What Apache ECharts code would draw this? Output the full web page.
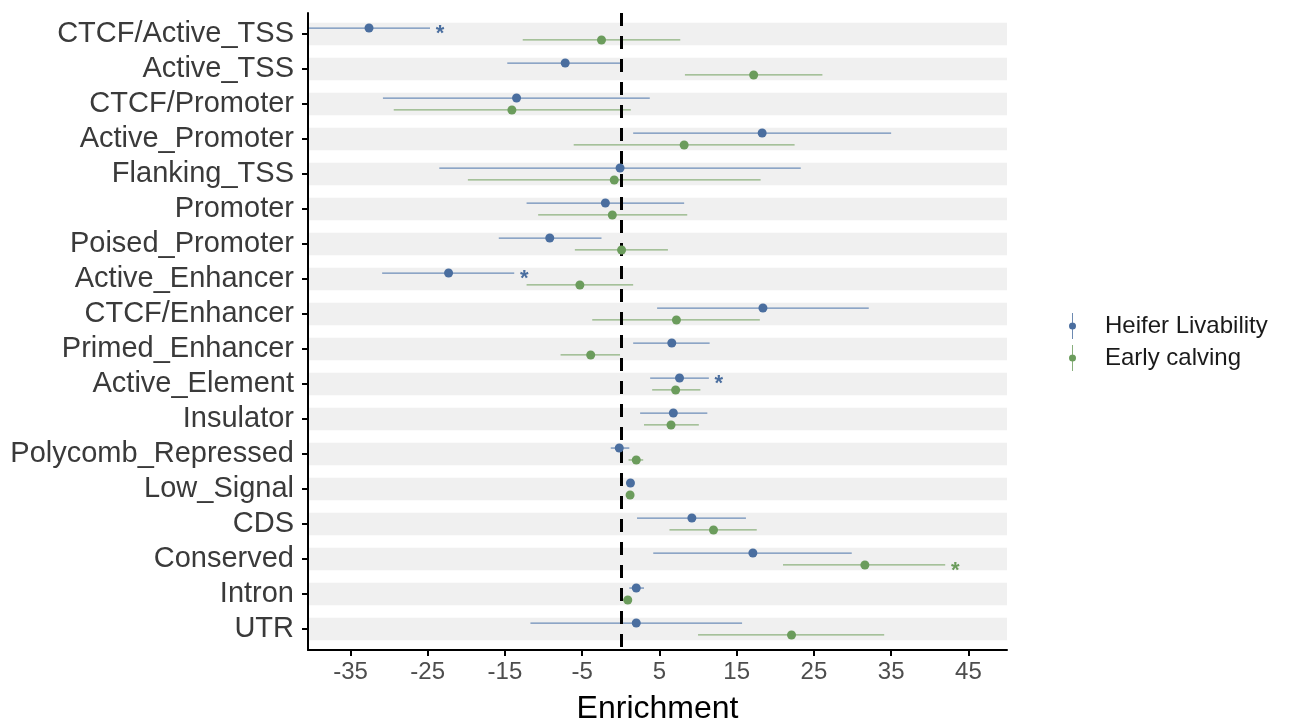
<!DOCTYPE html>
<html>
<head>
<meta charset="utf-8">
<script src="https://cdn.jsdelivr.net/npm/echarts@6/dist/echarts.min.js"></script>
<style>
  html, body { margin: 0; padding: 0; background: #fff; }
  #chart { width: 1289px; height: 723px; }
</style>
</head>
<body>
<div id="chart"></div>
<script>
// categories, top to bottom
var categories = ["CTCF/Active_TSS", "Active_TSS", "CTCF/Promoter", "Active_Promoter", "Flanking_TSS",
  "Promoter", "Poised_Promoter", "Active_Enhancer", "CTCF/Enhancer", "Primed_Enhancer",
  "Active_Element", "Insulator", "Polycomb_Repressed", "Low_Signal", "CDS", "Conserved", "Intron", "UTR"];

// Heifer Livability
var heiferEst  = [-32.6, -7.2, -13.5, 18.3, -0.1, -2.0, -9.2, -22.3, 18.4, 6.6, 7.6, 6.8, -0.2, 1.25, 9.2, 17.1, 2.0, 2.0];
var heiferLow  = [-40.5, -14.7, -30.8, 1.6, -23.5, -12.2, -15.8, -30.9, 4.7, 1.6, 3.8, 2.5, -1.3, 1.0, 2.1, 4.2, 1.1, -11.7];
var heiferHigh = [-24.7, -0.1, 3.75, 35.0, 23.3, 8.2, -2.5, -13.8, 32.1, 11.5, 11.4, 11.2, 1.1, 1.5, 16.2, 29.9, 3.0, 15.7];
var heiferSig  = [1, 0, 0, 0, 0, 0, 0, 1, 0, 0, 1, 0, 0, 0, 0, 0, 0, 0];

// Early calving
var calvingEst  = [-2.5, 17.2, -14.1, 8.2, -0.85, -1.1, 0.1, -5.3, 7.2, -3.9, 7.1, 6.5, 2.0, 1.2, 12.0, 31.6, 0.9, 22.1];
var calvingLow  = [-12.7, 8.3, -29.4, -6.1, -19.8, -10.7, -5.95, -12.2, -3.7, -7.8, 4.06, 3.0, 1.0, 1.0, 6.3, 21.0, -0.1, 10.0];
var calvingHigh = [7.7, 26.1, 1.3, 22.5, 18.1, 8.6, 6.1, 1.6, 18.0, -0.1, 10.3, 10.1, 2.9, 1.4, 17.6, 42.0, 1.4, 34.1];
var calvingSig  = [0, 0, 0, 0, 0, 0, 0, 0, 0, 0, 0, 0, 0, 0, 0, 1, 0, 0];

var xTicks = [-35, -25, -15, -5, 5, 15, 25, 35, 45];

var blue = "#4a6e9f", blueLine = "#6d8db8";
var green = "#6b9c5c", greenLine = "#8db27e";
var dodge = 0.17;

var chart = echarts.init(document.getElementById("chart"));

function barData(low, high, sig, off) {
  return categories.map(function(c, i) {
    return [low[i], high[i], i + off, sig[i]];
  });
}
function pointData(est, off) {
  return categories.map(function(c, i) {
    return [est[i], i + off];
  });
}
function renderBar(lineColor, starColor) {
  return function(params, api) {
    var p1 = api.coord([api.value(0), api.value(2)]);
    var p2 = api.coord([api.value(1), api.value(2)]);
    var kids = [{
      type: "line",
      shape: { x1: p1[0], y1: p1[1], x2: p2[0], y2: p2[1] },
      style: { stroke: lineColor, lineWidth: 1.3 }
    }];
    if (api.value(3) === 1) {
      kids.push({
        type: "text",
        x: p2[0] + 10, y: p2[1] + 6,
        style: { text: "*", fill: starColor, font: "bold 22px 'Liberation Sans', Arial", align: "center", verticalAlign: "middle" }
      });
    }
    return { type: "group", children: kids };
  };
}

// grey bands behind each row
var bands = categories.map(function(c, i) {
  return [{ yAxis: i - 0.32 }, { yAxis: i + 0.32 }];
});

var legendIcon = "path://M3.1,0 L3.9,0 L3.9,26 L3.1,26 Z M0,13 A3.5,3.5 0 1 1 7,13 A3.5,3.5 0 1 1 0,13 Z";

var option = {
  animation: false,
  textStyle: { fontFamily: "'Liberation Sans', Arial, sans-serif" },
  grid: { left: 308, right: 282, top: 13, bottom: 73, outerBoundsMode: "none" },
  legend: {
    orient: "vertical",
    left: 1064,
    top: 308,
    itemWidth: 7,
    itemHeight: 26,
    itemGap: 6,
    data: [
      { name: "Heifer Livability", icon: legendIcon, itemStyle: { color: blue } },
      { name: "Early calving", icon: legendIcon, itemStyle: { color: green } }
    ],
    textStyle: { fontSize: 24, color: "#1a1a1a", padding: [0, 0, 0, 24] }
  },
  xAxis: {
    type: "value",
    min: -40.5,
    max: 50,
    z: 10,
    name: "Enrichment",
    nameLocation: "middle",
    nameGap: 43,
    nameTextStyle: { fontSize: 32, color: "#000" },
    axisLine: { show: true, onZero: false, lineStyle: { color: "#000", width: 2 } },
    axisTick: { show: true, length: 6, lineStyle: { color: "#000", width: 2 }, customValues: xTicks },
    axisLabel: { fontSize: 24, color: "#4d4d4d", margin: 10, customValues: xTicks },
    splitLine: { show: false }
  },
  yAxis: {
    type: "value",
    inverse: true,
    min: -0.6,
    max: categories.length - 1 + 0.6,
    z: 10,
    axisLine: { show: true, onZero: false, lineStyle: { color: "#000", width: 2 } },
    axisTick: { show: true, length: 6, lineStyle: { color: "#000", width: 2 }, customValues: categories.map(function(c, i) { return i; }) },
    axisLabel: {
      fontSize: 29,
      color: "#3a3a3a",
      margin: 14,
      customValues: categories.map(function(c, i) { return i; }),
      formatter: function(v) { return categories[Math.round(v)]; }
    },
    splitLine: { show: false }
  },
  series: [
    {
      name: "Heifer Livability",
      type: "custom",
      renderItem: renderBar(blueLine, blue),
      encode: { x: [0, 1], y: 2 },
      data: barData(heiferLow, heiferHigh, heiferSig, -dodge),
      itemStyle: { color: blue },
      z: 2,
      markArea: {
        silent: true,
        itemStyle: { color: "#f0f0f0" },
        data: bands
      },
      markLine: {
        silent: true,
        symbol: "none",
        label: { show: false },
        lineStyle: { color: "#000", width: 3, type: [13, 10] },
        data: [{ xAxis: 0 }],
        z: 3
      }
    },
    {
      name: "Early calving",
      type: "custom",
      renderItem: renderBar(greenLine, green),
      encode: { x: [0, 1], y: 2 },
      data: barData(calvingLow, calvingHigh, calvingSig, dodge),
      itemStyle: { color: green },
      z: 2
    },
    {
      name: "Heifer Livability",
      type: "scatter",
      symbolSize: 9,
      itemStyle: { color: blue, opacity: 1 },
      data: pointData(heiferEst, -dodge),
      z: 4
    },
    {
      name: "Early calving",
      type: "scatter",
      symbolSize: 9,
      itemStyle: { color: green, opacity: 1 },
      data: pointData(calvingEst, dodge),
      z: 4
    }
  ]
};

chart.setOption(option);
</script>
</body>
</html>
